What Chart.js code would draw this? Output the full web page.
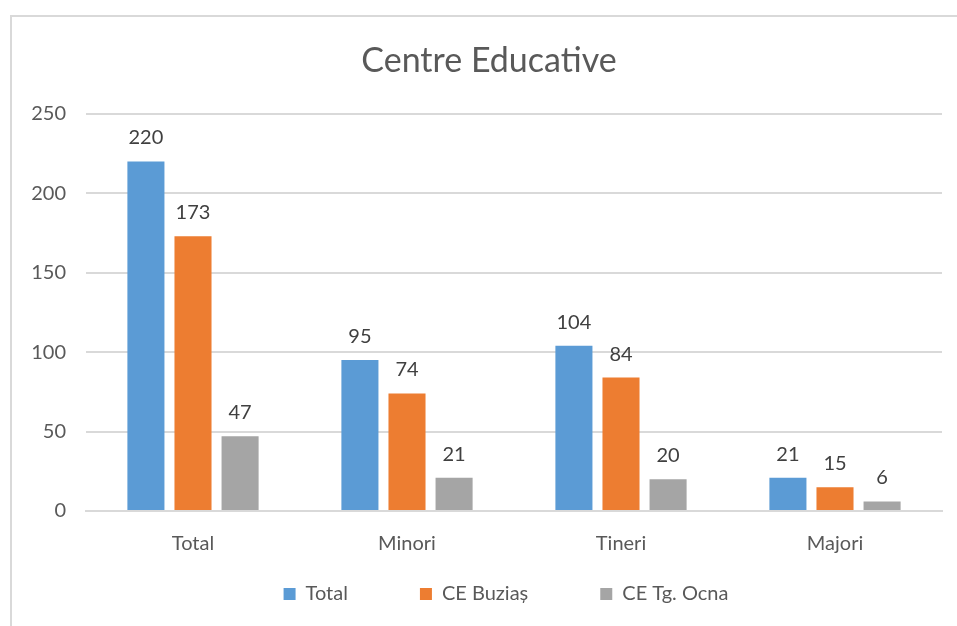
<!DOCTYPE html>
<html>
<head>
<meta charset="utf-8">
<script src="https://cdn.jsdelivr.net/npm/chart.js@4.4.1/dist/chart.umd.min.js"></script>
<style>
  body { margin: 0; background: #fff; overflow: hidden; }
  #frame { position: absolute; left: 10px; top: 15px; width: 1000px; height: 700px; border: 2px solid #d9d9d9; }
  #wrap { position: absolute; left: 0; top: 0; width: 957px; height: 626px; }
</style>
</head>
<body>
<div id="frame"></div>
<div id="wrap"><canvas id="chart"></canvas></div>
<script>
const categories = ['Total', 'Minori', 'Tineri', 'Majori']
const totalValues = [220, 95, 104, 21]
const buziasValues = [173, 74, 84, 15]
const ocnaValues = [47, 21, 20, 6]
const yTicks = [0, 50, 100, 150, 200, 250]

const FONT = 'Lato, "Open Sans", sans-serif'
const LEGEND_GAP = 72

// value labels above each bar
const valueLabels = {
    id: 'valueLabels',
    afterDatasetsDraw(chart) {
        const ctx = chart.ctx
        ctx.save()
        ctx.font = '20px ' + FONT
        ctx.fillStyle = '#404040'
        ctx.textAlign = 'center'
        ctx.textBaseline = 'alphabetic'
        chart.data.datasets.forEach((ds, i) => {
            chart.getDatasetMeta(i).data.forEach((bar, j) => {
                ctx.fillText(ds.data[j], bar.x, bar.y - 17)
            })
        })
        ctx.restore()
    }
}

// wide gaps between legend items without the legend eating vertical space,
// and nudge title/legend to the right like the original
const legendSpacing = {
    id: 'legendSpacing',
    beforeInit(chart) {
        const legend = chart.legend
        const fit = legend.fit
        legend.fit = function () {
            fit.call(this)
            this.height = 37
            this.bottom = this.top + 37
        }
    },
    afterLayout(chart) {
        const legend = chart.legend
        legend.top -= LEGEND_GAP - 7
        legend.left += 25
        legend.right += 25
        chart.titleBlock.left += 8
        chart.titleBlock.right += 8
    }
}

const chart = new Chart(document.getElementById('chart').getContext('2d'), {
    type: 'bar',
    data: {
        labels: categories,
        datasets: [
            { label: 'Total', data: totalValues, backgroundColor: '#5B9BD5' },
            { label: 'CE Buziaș', data: buziasValues, backgroundColor: '#ED7D31' },
            { label: 'CE Tg. Ocna', data: ocnaValues, backgroundColor: '#A5A5A5' }
        ]
    },
    options: {
        responsive: true,
        maintainAspectRatio: false,
        animation: false,
        categoryPercentage: 0.66,
        barPercentage: 0.787,
        layout: { padding: { left: 20, right: 15, top: 0, bottom: 12 } },
        scales: {
            x: {
                grid: { display: false, drawTicks: false },
                border: { color: '#d9d9d9', width: 2 },
                ticks: { color: '#595959', font: { family: FONT, size: 20 }, padding: 21 }
            },
            y: {
                min: 0,
                max: 250,
                afterBuildTicks(scale) { scale.ticks = yTicks.map(v => ({ value: v })) },
                afterFit(scale) { scale.width = 66 },
                grid: { color: '#d9d9d9', lineWidth: 2, drawTicks: false },
                border: { display: false },
                ticks: { color: '#595959', font: { family: FONT, size: 20 }, padding: 20 }
            }
        },
        plugins: {
            title: {
                display: true,
                text: 'Centre Educative',
                color: '#595959',
                font: { family: FONT, size: 34, weight: 'normal' },
                padding: { top: 41, bottom: 32 }
            },
            legend: {
                position: 'bottom',
                labels: {
                    color: '#595959',
                    font: { family: FONT, size: 20 },
                    boxWidth: 12,
                    boxHeight: 12,
                    padding: LEGEND_GAP
                }
            },
            tooltip: { enabled: false }
        }
    },
    plugins: [valueLabels, legendSpacing]
})
</script>
</body>
</html>
